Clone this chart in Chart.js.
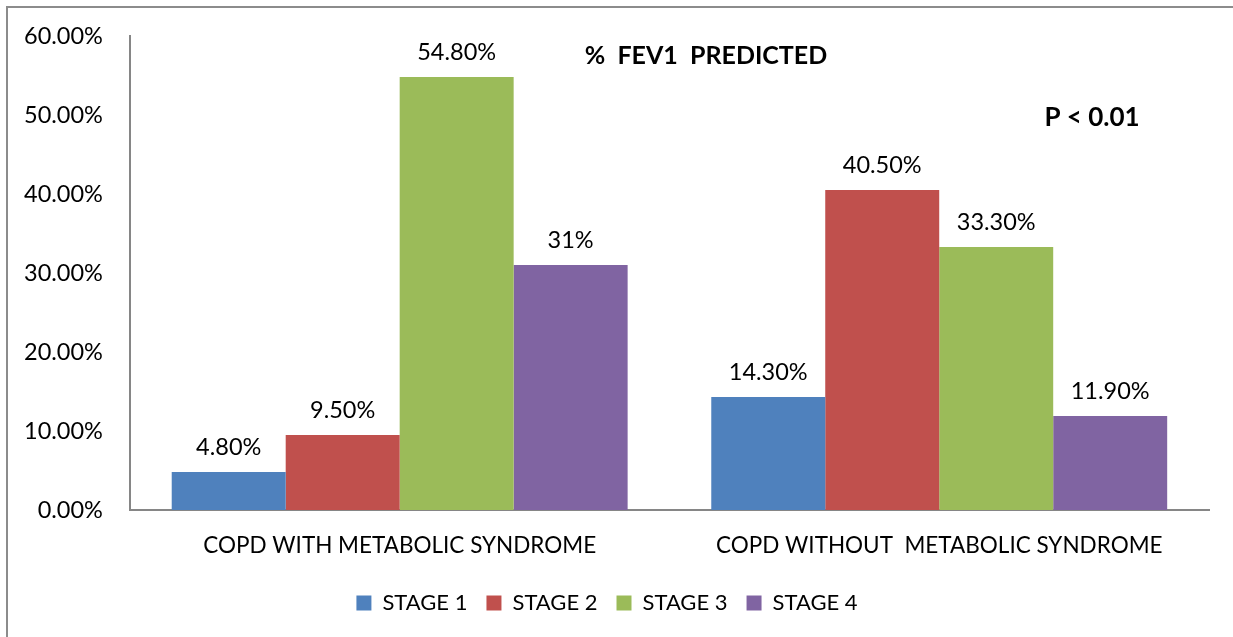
<!DOCTYPE html>
<html>
<head>
<meta charset="utf-8">
<script src="https://cdn.jsdelivr.net/npm/chart.js@4"></script>
<style>
  html, body { margin: 0; padding: 0; background: #fff; overflow: hidden; }
  #wrap { position: relative; width: 1233px; height: 637px; }
  #frame { position: absolute; left: 6px; top: 6px; width: 1300px; height: 700px;
           border-top: 2px solid #8c8c8c; border-left: 2px solid #8c8c8c; }
  canvas { position: absolute; left: 0; top: 0; }
</style>
</head>
<body>
<div id="wrap">
  <div id="frame"></div>
  <canvas id="chart" width="1233" height="637"></canvas>
</div>
<script>
// data
const categories = ['COPD WITH METABOLIC SYNDROME', 'COPD WITHOUT  METABOLIC SYNDROME'];
const seriesNames = ['STAGE 1', 'STAGE 2', 'STAGE 3', 'STAGE 4'];
const stage1 = [4.8, 14.3];
const stage2 = [9.5, 40.5];
const stage3 = [54.8, 33.3];
const stage4 = [31, 11.9];
const stage1Labels = ['4.80%', '14.30%'];
const stage2Labels = ['9.50%', '40.50%'];
const stage3Labels = ['54.80%', '33.30%'];
const stage4Labels = ['31%', '11.90%'];
const yTickLabels = ['0.00%', '10.00%', '20.00%', '30.00%', '40.00%', '50.00%', '60.00%'];
const colors = ['#4F81BD', '#C0504D', '#9BBB59', '#8064A2'];

const FONT = 'Lato, "Open Sans", sans-serif';

const allValues = [stage1, stage2, stage3, stage4];
const allLabels = [stage1Labels, stage2Labels, stage3Labels, stage4Labels];

// value labels + free text
const labelPlugin = {
  id: 'labels',
  afterDatasetsDraw(chart) {
    const ctx = chart.ctx;
    ctx.save();
    ctx.fillStyle = '#000';
    ctx.textAlign = 'center';
    ctx.textBaseline = 'middle';
    ctx.font = '23.5px ' + FONT;
    chart.data.datasets.forEach((ds, i) => {
      const meta = chart.getDatasetMeta(i);
      meta.data.forEach((bar, j) => {
        ctx.fillText(allLabels[i][j], bar.x, bar.y - 25);
      });
    });
    ctx.font = 'bold 25px ' + FONT;
    ctx.fillText('%  FEV1  PREDICTED', 706, 56);
    ctx.font = 'bold 26px ' + FONT;
    ctx.fillText('P < 0.01', 1092, 118);
    ctx.restore();
  }
};

const ctx = document.getElementById('chart').getContext('2d');
const chart = new Chart(ctx, {
  type: 'bar',
  data: {
    labels: categories,
    datasets: seriesNames.map((name, i) => ({
      label: name,
      data: allValues[i],
      backgroundColor: colors[i],
      borderWidth: 0
    }))
  },
  options: {
    responsive: false,
    animation: false,
    categoryPercentage: 0.845,
    barPercentage: 1.0,
    layout: { padding: { top: 36, left: 5, right: 24, bottom: 13 } },
    scales: {
      x: {
        grid: { display: false },
        border: { display: true, color: '#868686', width: 2 },
        ticks: { color: '#000', font: { family: FONT, size: 22.5 }, padding: 14 }
      },
      y: {
        min: 0,
        max: 60,
        grid: { display: false },
        border: { display: true, color: '#868686', width: 2 },
        ticks: {
          stepSize: 10,
          color: '#000',
          padding: 19,
          font: { family: FONT, size: 23.5 },
          callback: (v, idx) => yTickLabels[idx]
        }
      }
    },
    plugins: {
      legend: {
        position: 'bottom',
        labels: {
          color: '#000',
          boxWidth: 15,
          boxHeight: 15,
          padding: 19,
          font: { family: FONT, size: 22 }
        }
      },
      tooltip: { enabled: false }
    }
  },
  plugins: [labelPlugin]
});
</script>
</body>
</html>
